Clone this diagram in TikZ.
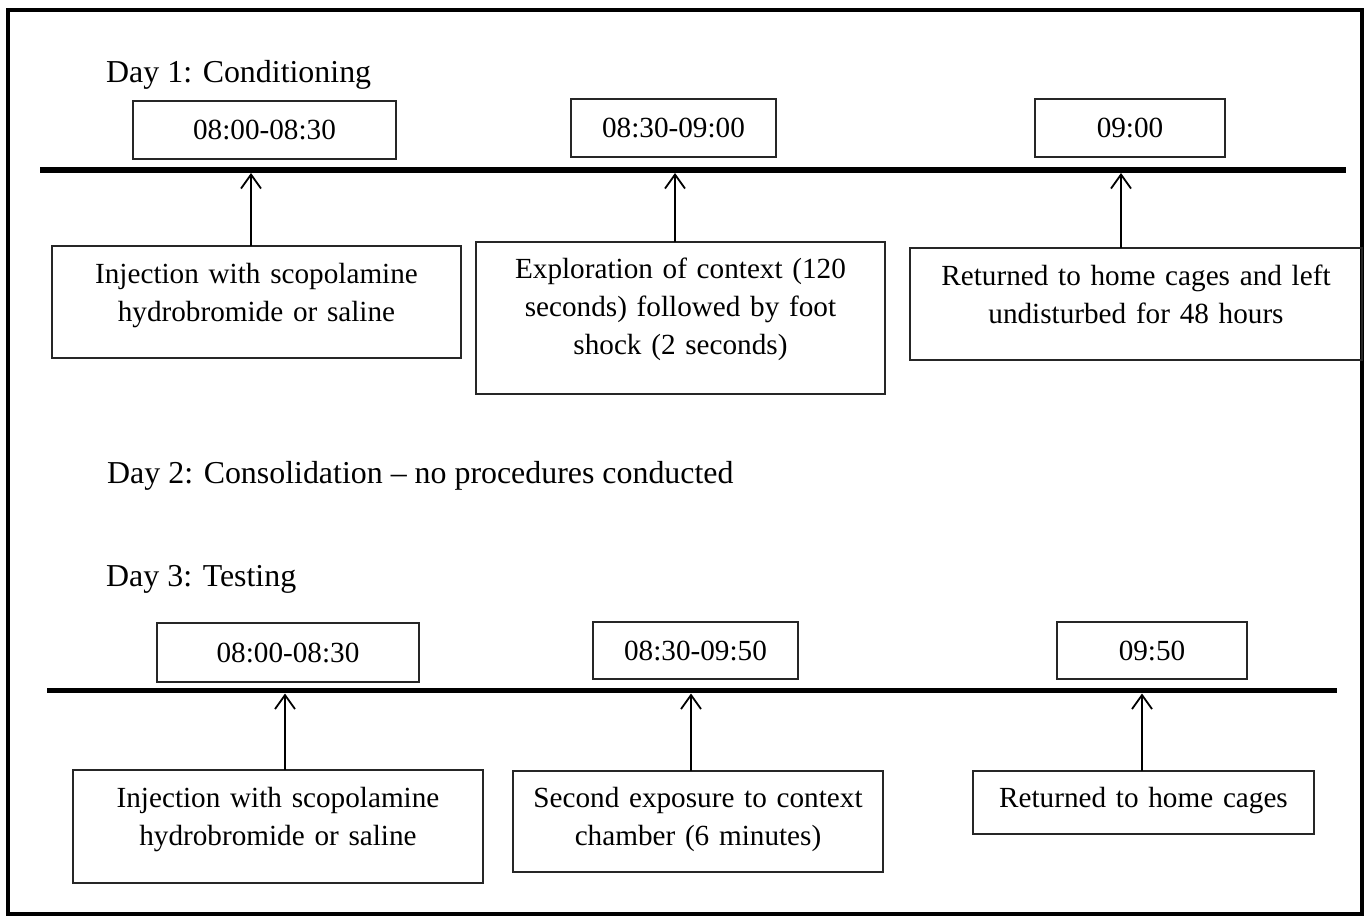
\documentclass[tikz,border=0pt]{standalone}
\usepackage{fontspec}
\setmainfont{Liberation Serif}
\usetikzlibrary{arrows.meta}
\newcommand\myheadfont{\fontsize{31.9}{38}\selectfont}
\newcommand\myboxfont{\fontsize{29.2}{38.3}\selectfont}
\begin{document}
\begin{tikzpicture}[x=1pt,y=-1pt,
  head/.style={anchor=base west, inner sep=0pt, font=\myheadfont},
  tbox/.style={draw=black!85, line width=1.4pt, minimum height=58pt, inner sep=0pt, outer sep=0pt, font=\myboxfont},
  desc/.style={draw=black!85, line width=1.4pt, inner sep=0pt, outer sep=0pt, align=center, anchor=north west, font=\myboxfont},
  tline/.style={line width=5.5pt},
  arr/.style={line width=1.8pt, -{Straight Barb[length=14pt,width=20pt]}}]
\useasboundingbox (0,0) rectangle (1364,915);
% frame
\draw[line width=4pt] (8,10) rectangle (1362,913.5);

% ---------- Day 1 ----------
\node[head] (h1) at (106,83) {Day 1: Conditioning};
\node[tbox, minimum width=263pt] (t1a) at (264.5,130) {08:00-08:30};
\node[tbox, minimum width=205pt] (t1b) at (673.5,128) {08:30-09:00};
\node[tbox, minimum width=190pt] (t1c) at (1130,128) {09:00};
\coordinate (l1a) at (40,170);
\coordinate (l1b) at (1346,170);
\coordinate (l1low) at (0,173);
\draw[tline] (l1a) -- (l1b);

\node[desc, text width=409pt, text height=37pt, text depth=75pt] (d1a) at (52,246)
  {Injection with scopolamine\\hydrobromide or saline};
\node[desc, text width=409pt, text height=36pt, text depth=116pt] (d1b) at (476,242)
  {Exploration of context (120\\seconds) followed by foot\\shock (2 seconds)};
\node[desc, text width=452pt, text height=37pt, text depth=75pt] (d1c) at (910,248)
  {Returned to home cages and left\\undisturbed for 48 hours};

\coordinate (s1a) at ([xshift=-5.5pt]d1a.north);
\coordinate (s1b) at ([xshift=-5.5pt]d1b.north);
\coordinate (s1c) at ([xshift=-15pt]d1c.north);
\draw[arr] (s1a) -- (s1a |- l1low);
\draw[arr] (s1b) -- (s1b |- l1low);
\draw[arr] (s1c) -- (s1c |- l1low);

% ---------- Day 2 ----------
\node[head] (h2) at (107,483) {Day 2: Consolidation -- no procedures conducted};

% ---------- Day 3 ----------
\node[head] (h3) at (106,586) {Day 3: Testing};
\node[tbox, minimum width=262pt, minimum height=59pt] (t3a) at (288,652.5) {08:00-08:30};
\node[tbox, minimum width=205pt, minimum height=57pt] (t3b) at (695.5,650.5) {08:30-09:50};
\node[tbox, minimum width=190pt, minimum height=57pt] (t3c) at (1152,650.5) {09:50};
\coordinate (l3a) at (47,690.5);
\coordinate (l3b) at (1337,690.5);
\coordinate (l3low) at (0,693.5);
\draw[tline] (l3a) -- (l3b);

\node[desc, text width=410pt, text height=37pt, text depth=76pt] (d3a) at (73,770)
  {Injection with scopolamine\\hydrobromide or saline};
\node[desc, text width=370pt, text height=36pt, text depth=65pt] (d3b) at (513,771)
  {Second exposure to context\\chamber (6 minutes)};
\node[desc, text width=341pt, text height=36pt, text depth=27pt] (d3c) at (973,771)
  {Returned to home cages};

\coordinate (s3a) at ([xshift=7pt]d3a.north);
\coordinate (s3b) at ([xshift=-7pt]d3b.north);
\coordinate (s3c) at ([xshift=-1.5pt]d3c.north);
\draw[arr] (s3a) -- (s3a |- l3low);
\draw[arr] (s3b) -- (s3b |- l3low);
\draw[arr] (s3c) -- (s3c |- l3low);
\end{tikzpicture}
\end{document}
